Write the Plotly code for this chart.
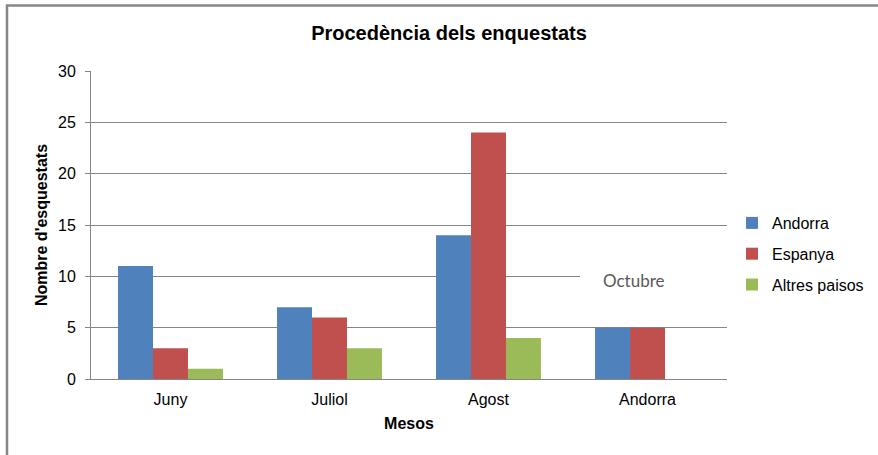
import plotly.graph_objects as go

categories = ["Juny", "Juliol", "Agost", "Andorra"]
andorra = [11, 7, 14, 5]
espanya = [3, 6, 24, 5]
altres = [1, 3, 4, 0]
series_names = ["Andorra", "Espanya", "Altres paisos"]
series_colors = ["#4F81BD", "#C0504D", "#9BBB59"]
y_ticks = [0, 5, 10, 15, 20, 25, 30]

W, H = 878, 455
L, R, T, B = 91, 151, 71, 76
pw, ph = W - L - R, H - T - B

def px_x(p):
    return (p - L) / pw

def px_y(p):
    return (H - B - p) / ph

fig = go.Figure()
for name, vals, col in zip(series_names, [andorra, espanya, altres], series_colors):
    fig.add_trace(go.Bar(x=categories, y=vals, name=name, legendgroup=name,
                         marker=dict(color=col, line=dict(width=0))))

grid = "#868686"
font_main = "Liberation Sans, Arial, sans-serif"

fig.update_layout(
    width=W, height=H,
    margin=dict(l=L, r=R, t=T, b=B, autoexpand=False),
    paper_bgcolor="white", plot_bgcolor="white",
    barmode="group", bargap=0.34, bargroupgap=0,
    font=dict(family=font_main, size=16, color="#000000"),
    title=dict(text="<b>Procedència dels enquestats</b>", x=px_x(449), xref="paper",
               xanchor="center", y=1 - 33 / H, yanchor="middle",
               font=dict(size=20, color="#000000", family=font_main)),
    legend=dict(x=px_x(732), xanchor="left", y=px_y(254), yanchor="middle",
                font=dict(size=16, family=font_main, color="#000000"),
                traceorder="grouped", tracegroupgap=7, bgcolor="rgba(0,0,0,0)"),
    xaxis=dict(showline=True, linecolor=grid, linewidth=1, ticks="outside", ticklen=6,
               tickcolor="rgba(0,0,0,0)", showgrid=False, tickfont=dict(size=16),
               title=dict(text="<b>Mesos</b>", font=dict(size=16), standoff=10)),
    yaxis=dict(range=[0, 30], tickvals=y_ticks, showline=True, linecolor=grid, linewidth=1,
               ticks="outside", ticklen=5, tickcolor=grid, gridcolor=grid, gridwidth=1,
               tickfont=dict(size=16), ticklabelstandoff=6, zeroline=False,
               title=dict(text="<b>Nombre d'esquestats</b>", font=dict(size=16), standoff=6)),
    shapes=[
        dict(type="rect", xref="paper", yref="paper", x0=px_x(7), x1=px_x(890),
             y0=px_y(470), y1=px_y(5.5), line=dict(color=grid, width=2.5),
             fillcolor="rgba(0,0,0,0)", layer="above"),
        dict(type="rect", xref="paper", yref="paper", x0=px_x(580), x1=1.0,
             y0=px_y(290), y1=px_y(268), line=dict(width=0), fillcolor="white",
             layer="above"),
    ],
    annotations=[
        dict(text="Octubre", xref="paper", yref="paper", x=px_x(601), xanchor="left",
             y=px_y(280), yanchor="middle", showarrow=False,
             font=dict(family="Lato, Open Sans, sans-serif", size=17, color="#595959")),
    ],
)

fig.write_html("out.html", config={"displayModeBar": False},
               post_script="document.body.style.margin='0';document.body.style.padding='0';")
